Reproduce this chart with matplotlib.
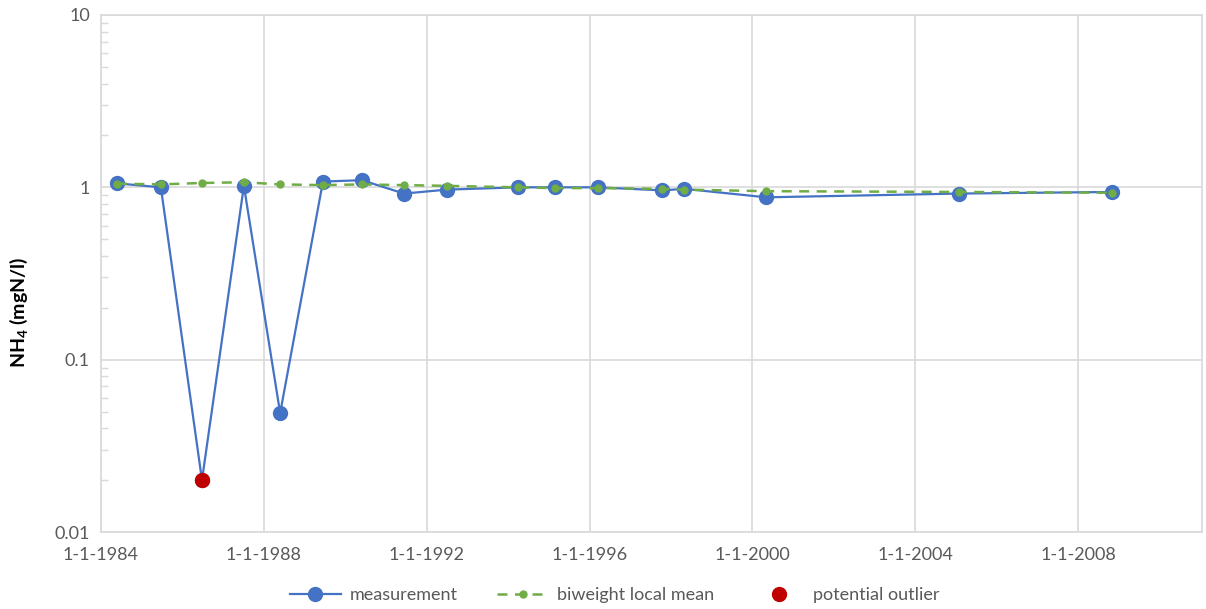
import datetime as dt
import matplotlib
matplotlib.use("Agg")
import matplotlib.pyplot as plt
import matplotlib.dates as mdates
from matplotlib.ticker import LogLocator, FixedLocator, FixedFormatter, NullFormatter

plt.rcParams["font.family"] = ["Lato", "DejaVu Sans"]
plt.rcParams["mathtext.fontset"] = "custom"
plt.rcParams["mathtext.rm"] = "Lato"
plt.rcParams["mathtext.bf"] = "Lato:bold"

# sample dates (decimal years)
years = [1984.39, 1985.47, 1986.48, 1987.51, 1988.40, 1989.45, 1990.41, 1991.44,
         1992.50, 1994.25, 1995.15, 1996.21, 1997.78, 1998.32, 2000.34, 2005.06,
         2008.82]
measurement = [1.055, 1.0, 0.02, 1.02, 0.049, 1.08, 1.10, 0.92,
               0.97, 1.0, 1.0, 1.0, 0.96, 0.98, 0.875, 0.92, 0.94]
biweight = [1.05, 1.04, 1.06, 1.07, 1.04, 1.03, 1.04, 1.03,
            1.02, 1.0, 0.99, 0.99, 0.98, 0.97, 0.95, 0.94, 0.93]
outlier_idx = [2]

y_ticks = [0.01, 0.1, 1, 10]
y_tick_labels = ["0.01", "0.1", "1", "10"]


def to_date(y):
    year = int(y)
    start = dt.datetime(year, 1, 1)
    return start + (dt.datetime(year + 1, 1, 1) - start) * (y - year)


dates = [to_date(y) for y in years]

fig = plt.figure(figsize=(12.06, 6.09), dpi=100)
ax = fig.add_axes([0.0837, 0.1264, 0.913, 0.849])

blue = "#4472C4"
green = "#70AD47"
red = "#C00000"
grid = "#D9D9D9"
text = "#595959"

ax.plot(dates, measurement, color=blue, lw=1.6, marker="o", ms=10,
        label="measurement", zorder=3)
ax.plot(dates, biweight, color=green, lw=1.8, ls=(0, (4, 3)), marker="o", ms=5,
        label="biweight local mean", zorder=4)
ax.plot([dates[i] for i in outlier_idx], [measurement[i] for i in outlier_idx],
        ls="none", marker="o", ms=10, color=red, label="potential outlier", zorder=5)

ax.set_yscale("log")
ax.set_ylim(0.01, 10)
ax.set_xlim(dt.datetime(1984, 1, 1), dt.datetime(2011, 1, 15))

ax.yaxis.set_major_locator(FixedLocator(y_ticks))
ax.yaxis.set_major_formatter(FixedFormatter(y_tick_labels))
ax.yaxis.set_minor_locator(LogLocator(base=10, subs=range(2, 10)))
ax.yaxis.set_minor_formatter(NullFormatter())

ax.xaxis.set_major_locator(mdates.YearLocator(4, month=1, day=1))
ax.xaxis.set_major_formatter(plt.FuncFormatter(
    lambda v, pos: "{0.day}-{0.month}-{0.year}".format(mdates.num2date(v))))

ax.grid(True, which="major", color=grid, lw=1.2)
ax.set_axisbelow(True)
for s in ax.spines.values():
    s.set_color(grid)
    s.set_linewidth(1.2)

ax.tick_params(axis="both", which="major", length=0, labelsize=13, labelcolor=text, pad=8)
ax.tick_params(axis="y", which="minor", direction="in", length=5, color=grid, width=1)
ax.tick_params(axis="x", pad=11)

ax.set_ylabel(r"NH$_\mathbf{4}$ (mgN/l)", fontsize=14, fontweight="bold")
ax.yaxis.set_label_coords(-0.0645, 0.424)

fig.legend(loc="lower center", bbox_to_anchor=(0.51, -0.017), ncol=3, frameon=False,
           fontsize=13, labelcolor=text, handlelength=2.8, handletextpad=0.5,
           columnspacing=2.2)

fig.savefig("out.png", dpi=100)
